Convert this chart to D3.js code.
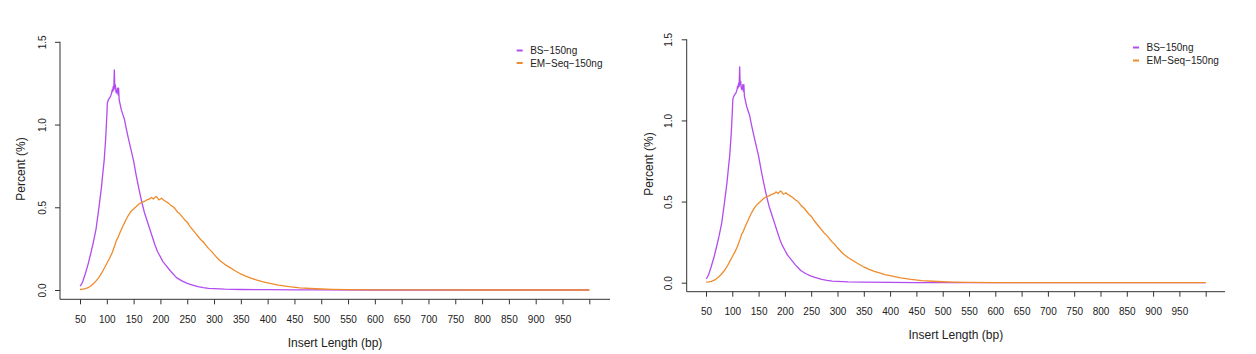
<!DOCTYPE html>
<html>
<head>
<meta charset="utf-8">
<script src="https://cdn.jsdelivr.net/npm/d3@7"></script>
<style>
  body { margin: 0; background: #fff; }
  svg { display: block; font-family: "Liberation Sans", Arial, sans-serif; }
</style>
</head>
<body>
<svg id="viz" width="1256" height="354"></svg>
<script>
// insert length (bp) and percent of reads
const bsLength = [50, 52, 55, 60, 65, 70, 75, 80, 85, 90, 93, 95, 98, 100, 101, 103, 105, 107, 109, 110, 111, 112, 113, 114, 115, 116, 117, 118, 119, 120, 121, 122, 123, 125, 127, 130, 133, 136, 140, 145, 150, 155, 160, 165, 170, 175, 180, 185, 190, 195, 200, 205, 210, 215, 220, 230, 240, 250, 260, 270, 280, 290, 300, 320, 350, 400, 450, 500, 600, 700, 800, 900, 1000];
const bsPercent = [0.025, 0.03, 0.05, 0.10, 0.155, 0.22, 0.29, 0.37, 0.49, 0.62, 0.72, 0.78, 0.92, 1.05, 1.13, 1.15, 1.16, 1.17, 1.19, 1.21, 1.20, 1.23, 1.21, 1.33, 1.22, 1.24, 1.20, 1.19, 1.20, 1.22, 1.18, 1.22, 1.15, 1.12, 1.09, 1.06, 1.03, 0.98, 0.92, 0.85, 0.78, 0.69, 0.61, 0.535, 0.47, 0.42, 0.37, 0.32, 0.27, 0.23, 0.20, 0.17, 0.15, 0.13, 0.11, 0.075, 0.055, 0.04, 0.03, 0.02, 0.014, 0.01, 0.008, 0.005, 0.003, 0.002, 0.001, 0.0005, 0, 0, 0, 0, 0];

const emLength = [50, 55, 60, 65, 70, 75, 80, 85, 90, 95, 100, 105, 110, 115, 118, 120, 125, 130, 135, 140, 145, 150, 155, 160, 165, 170, 175, 180, 183, 185, 187, 190, 192, 195, 197, 200, 202, 205, 210, 215, 220, 225, 230, 232, 235, 240, 245, 250, 255, 260, 265, 270, 275, 280, 285, 290, 295, 300, 310, 320, 330, 340, 350, 360, 370, 380, 390, 400, 420, 440, 460, 480, 500, 520, 550, 600, 700, 800, 900, 1000];
const emPercent = [0.003, 0.005, 0.008, 0.014, 0.024, 0.038, 0.055, 0.075, 0.10, 0.13, 0.16, 0.19, 0.225, 0.27, 0.30, 0.31, 0.35, 0.385, 0.42, 0.45, 0.475, 0.49, 0.505, 0.52, 0.53, 0.535, 0.545, 0.55, 0.56, 0.555, 0.55, 0.56, 0.565, 0.555, 0.545, 0.55, 0.555, 0.545, 0.535, 0.525, 0.51, 0.50, 0.48, 0.47, 0.465, 0.445, 0.425, 0.41, 0.385, 0.365, 0.345, 0.325, 0.305, 0.29, 0.27, 0.25, 0.235, 0.215, 0.18, 0.155, 0.135, 0.115, 0.097, 0.082, 0.07, 0.06, 0.05, 0.043, 0.03, 0.02, 0.013, 0.009, 0.006, 0.004, 0.002, 0.001, 0.0005, 0, 0, 0];

const seriesNames = ["BS\u2212150ng", "EM\u2212Seq\u2212150ng"];
const seriesColors = ["#b24cf0", "#ef8b2c"];

const xTicks = [50, 100, 150, 200, 250, 300, 350, 400, 450, 500, 550, 600, 650, 700, 750, 800, 850, 900, 950, 1000];
const yTicks = [0, 0.5, 1.0, 1.5];

// the two panels show the same curves, placed slightly differently
const panels = [
  { x0: 80, x1: 589.3, y0: 290, y1: 41.8, axisX: 60, axisY: 299.3, axisRight: 610,
    tickLabelY: 323, yLabelX: 45.5, xTitleY: 347, yTitleX: 20.5, yTitleY: 169,
    legX: 516.7, legY: 50.5, legGap: 12.5 },
  { x0: 706, x1: 1205.7, y0: 282.7, y1: 39.3, axisX: 686.7, axisY: 291.7, axisRight: 1225,
    tickLabelY: 315, yLabelX: 672, xTitleY: 339, yTitleX: 649, yTitleY: 164,
    legX: 1133, legY: 47.5, legGap: 13 }
];

const svg = d3.select("#viz");
const series = [
  d3.zip(bsLength, bsPercent),
  d3.zip(emLength, emPercent)
];

panels.forEach((p) => {
  const g = svg.append("g");

  const x = d3.scaleLinear().domain([50, 1000]).range([p.x0, p.x1]);
  const y = d3.scaleLinear().domain([0, 1.5]).range([p.y0, p.y1]);

  // L-shaped frame
  g.append("path")
    .attr("d", `M${p.axisX},${y(1.5)}V${p.axisY}H${p.axisRight}`)
    .attr("fill", "none")
    .attr("stroke", "#333")
    .attr("stroke-width", 1);

  // x axis ticks
  const xAxis = g.append("g")
    .attr("transform", `translate(0,${p.axisY})`)
    .call(d3.axisBottom(x).tickValues(xTicks).tickSize(5)
      .tickFormat((d) => (d === 1000 ? "" : d)));
  xAxis.select(".domain").remove();
  xAxis.selectAll("line").attr("stroke", "#333");
  xAxis.selectAll("text")
    .attr("y", null).attr("dy", null)
    .attr("transform", `translate(0,${p.tickLabelY - p.axisY})`)
    .attr("fill", "#222")
    .style("font-size", "10px")
    .style("font-family", "Liberation Sans, Arial, sans-serif");

  // y axis ticks, labels turned like R does
  const yAxis = g.append("g")
    .attr("transform", `translate(${p.axisX},0)`)
    .call(d3.axisLeft(y).tickValues(yTicks).tickSize(5).tickFormat(d3.format(".1f")));
  yAxis.select(".domain").remove();
  yAxis.selectAll("line").attr("stroke", "#333");
  yAxis.selectAll("text")
    .attr("x", null).attr("dy", null)
    .attr("transform", `translate(${p.yLabelX - p.axisX},0) rotate(-90)`)
    .attr("text-anchor", "middle")
    .attr("fill", "#222")
    .style("font-size", "10px")
    .style("font-family", "Liberation Sans, Arial, sans-serif");

  // curves
  const line = d3.line().x((d) => x(d[0])).y((d) => y(d[1]));
  series.forEach((s, i) => {
    g.append("path")
      .datum(s)
      .attr("d", line)
      .attr("fill", "none")
      .attr("stroke", seriesColors[i])
      .attr("stroke-width", 1.3)
      .attr("stroke-linejoin", "round");
  });

  // titles
  g.append("text")
    .attr("x", (p.axisX + p.axisRight) / 2)
    .attr("y", p.xTitleY)
    .attr("text-anchor", "middle")
    .attr("fill", "#222")
    .style("font-size", "12px")
    .text("Insert Length (bp)");

  g.append("text")
    .attr("transform", `translate(${p.yTitleX},${p.yTitleY}) rotate(-90)`)
    .attr("text-anchor", "middle")
    .attr("dy", "0.35em")
    .attr("fill", "#222")
    .style("font-size", "12px")
    .text("Percent (%)");

  // legend
  const leg = g.selectAll(".leg")
    .data(seriesNames)
    .join("g")
    .attr("transform", (d, i) => `translate(${p.legX},${p.legY + i * p.legGap})`);
  leg.append("line")
    .attr("x1", 0).attr("x2", 6)
    .attr("stroke", (d, i) => seriesColors[i])
    .attr("stroke-width", 2);
  leg.append("text")
    .attr("x", 13.5)
    .attr("dy", "0.35em")
    .attr("fill", "#222")
    .style("font-size", "10px")
    .text((d) => d);
});
</script>
</body>
</html>
